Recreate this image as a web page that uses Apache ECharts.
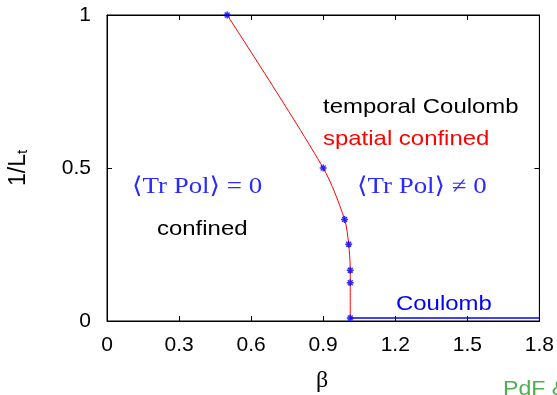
<!DOCTYPE html>
<html>
<head>
<meta charset="utf-8">
<script src="https://cdn.jsdelivr.net/npm/echarts@6/dist/echarts.min.js"></script>
<style>html,body{margin:0;padding:0;background:#fff;}#c{width:557px;height:395px;}</style>
</head>
<body>
<div id="c"></div>
<script>
// Transition line points (beta, 1/L_t)
var betaPoints = [0.5, 0.9, 0.989, 1.006, 1.0125, 1.0125, 1.0125];
var invLtPoints = [1.0, 0.5, 0.332, 0.251, 0.166, 0.125, 0.01];
// Coulomb line (horizontal)
var coulombBeta = [1.0125, 1.8];
var coulombInvLt = [0.01, 0.01];
// Axis ticks
var xTicks = [0, 0.3, 0.6, 0.9, 1.2, 1.5, 1.8];
var yTicks = [0, 0.5, 1];

function pairs(xs, ys) { return xs.map(function (x, i) { return [x, ys[i]]; }); }

var chart = echarts.init(document.getElementById('c'), null, {renderer: 'canvas'});
var sans = 'Liberation Sans, Arial, Helvetica, sans-serif';
var serif = 'Liberation Serif, DejaVu Serif, Times New Roman, serif';
var fs = 21;
var asterisk = 'path://M0,-10L0,10M-10,0L10,0M-7,-7L7,7M-7,7L7,-7';

function axisCommon() {
  return {
    type: 'value',
    axisLine: {show: true, onZero: false, lineStyle: {color: '#000', width: 1}},
    axisTick: {show: true, inside: true, length: 5, lineStyle: {color: '#000'}},
    splitLine: {show: false}
  };
}

function sansText(str, x, y, color) {
  return {type: 'text', x: x, y: y, scaleX: 1.14,
    style: {text: str, fill: color, font: '21px ' + sans, textVerticalAlign: 'top'}};
}
function mathText(str, x, y) {
  return {type: 'text', x: x, y: y, scaleX: 1.17,
    style: {text: str, fill: '#2a2aff', font: '23px ' + serif, textVerticalAlign: 'top'}};
}

chart.setOption({
  animation: false,
  grid: {left: 107, right: 17, top: 15, bottom: 74, show: true, borderColor: '#000', borderWidth: 1, backgroundColor: 'transparent'},
  xAxis: [
    Object.assign(axisCommon(), {
      min: xTicks[0], max: xTicks[xTicks.length - 1], interval: 0.3, position: 'bottom',
      axisLabel: {color: '#000', fontSize: fs, fontFamily: sans, margin: 14,
        formatter: function (v) { return String(+v.toFixed(1)); }}
    }),
    Object.assign(axisCommon(), {
      min: xTicks[0], max: xTicks[xTicks.length - 1], interval: 0.3, position: 'top',
      axisLabel: {show: false}
    })
  ],
  yAxis: [
    Object.assign(axisCommon(), {
      min: yTicks[0], max: yTicks[yTicks.length - 1], interval: 0.5, position: 'left',
      axisLabel: {color: '#000', fontSize: fs, fontFamily: sans, margin: 16,
        formatter: function (v) { return String(+v.toFixed(1)); }}
    }),
    Object.assign(axisCommon(), {
      min: yTicks[0], max: yTicks[yTicks.length - 1], interval: 0.5, position: 'right',
      axisLabel: {show: false}
    })
  ],
  series: [
    {
      type: 'line', xAxisIndex: 0, yAxisIndex: 0,
      data: pairs(betaPoints, invLtPoints),
      smooth: 0.3, showSymbol: false, symbol: 'none',
      lineStyle: {color: '#ff0000', width: 1}, z: 2
    },
    {
      type: 'line', xAxisIndex: 0, yAxisIndex: 0,
      data: pairs(coulombBeta, coulombInvLt),
      showSymbol: false, symbol: 'none',
      lineStyle: {color: '#0000ff', width: 1.5}, z: 3
    },
    {
      type: 'scatter', xAxisIndex: 0, yAxisIndex: 0,
      data: pairs(betaPoints, invLtPoints),
      symbol: asterisk, symbolSize: 7,
      itemStyle: {color: '#0000ff', borderColor: '#0000ff', borderWidth: 1.5}, z: 4
    },
    {
      type: 'line', xAxisIndex: 1, yAxisIndex: 1,
      data: [], showSymbol: false, symbol: 'none', silent: true
    }
  ],
  graphic: [
    sansText('temporal Coulomb', 323, 97, '#000'),
    sansText('spatial confined', 323, 129, '#ff0000'),
    sansText('confined', 157, 219, '#000'),
    sansText('Coulomb', 396, 294, '#0000ff'),
    mathText('\u27E8Tr Pol\u27E9 = 0', 132, 175),
    mathText('\u27E8Tr Pol\u27E9 \u2260 0', 357, 175),
    {type: 'text', x: 316, y: 369, style: {text: '\u03B2', fill: '#000', font: '24px ' + serif, textVerticalAlign: 'top'}},
    {type: 'text', x: 503, y: 379, scaleX: 1.1, style: {text: 'PdF & R', fill: '#4caf50', font: '21px ' + sans, textVerticalAlign: 'top'}},
    {type: 'text', x: 7, y: 186, rotation: Math.PI / 2,
      style: {text: '1/L{s|t}', fill: '#000', font: '23px ' + sans, textVerticalAlign: 'top',
        rich: {s: {fontSize: 15, fontFamily: sans, fill: '#000', padding: [8, 0, 0, 0], verticalAlign: 'bottom'}}}}
  ]
});
</script>
</body>
</html>
